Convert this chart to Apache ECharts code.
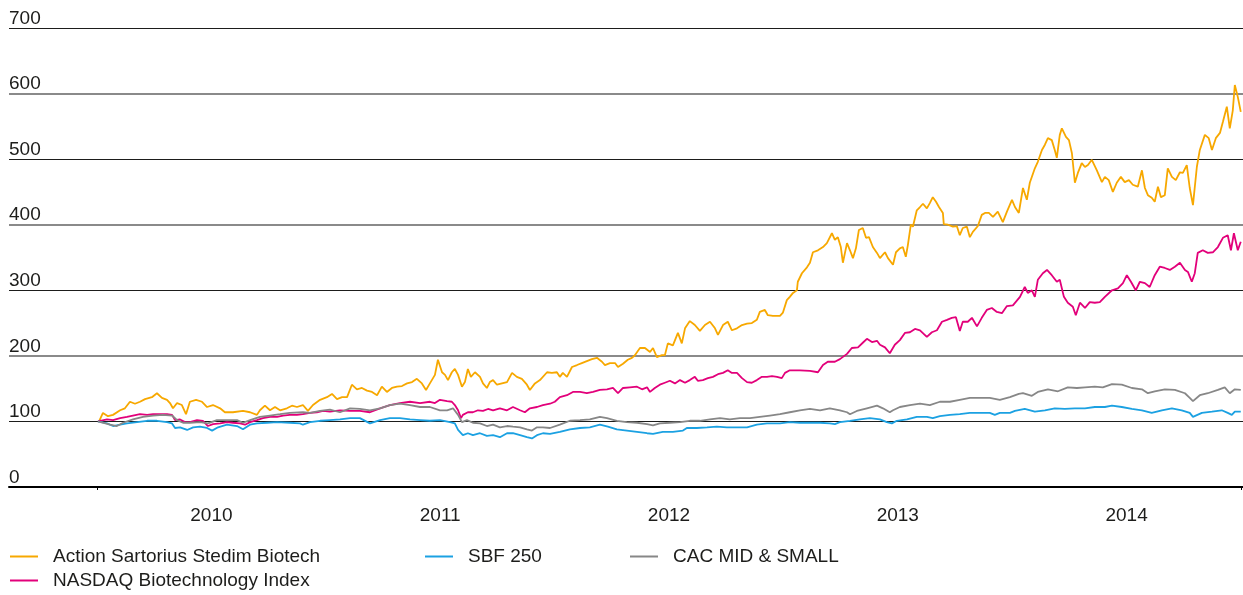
<!DOCTYPE html>
<html lang="fr">
<head>
<meta charset="UTF-8">
<title>Action Sartorius Stedim Biotech - performance</title>
<script src="https://cdn.jsdelivr.net/npm/echarts@6/dist/echarts.min.js"></script>
<style>
  html, body { margin: 0; padding: 0; background: #fff; }
  #main { width: 1243px; height: 595px; }
</style>
</head>
<body>
<div id="main"></div>
<script>
// year labels on the x axis
const years = ['2010', '2011', '2012', '2013', '2014'];
const START_YEAR = 2010;

// [years since 1 Jan 2010, index (base 100)]
const sartorius = [
  [0.009,100],[0.026,113],[0.048,108],[0.070,110],[0.101,117],[0.122,120],[0.144,130],[0.166,127],[0.188,130],[0.210,134],
  [0.240,137],[0.262,143],[0.284,136],[0.306,133],[0.319,128],[0.332,120],[0.350,128],[0.371,125],[0.389,111],[0.406,130],
  [0.433,133],[0.459,130],[0.481,122],[0.507,125],[0.538,120],[0.559,114],[0.594,114],[0.638,116],[0.669,114],[0.699,110],
  [0.712,117],[0.734,124],[0.756,117],[0.778,122],[0.800,117],[0.830,120],[0.852,124],[0.874,122],[0.900,125],[0.922,116],
  [0.944,125],[0.975,133],[1.005,137],[1.027,142],[1.049,134],[1.071,137],[1.093,137],[1.114,156],[1.136,149],[1.158,151],
  [1.180,147],[1.202,145],[1.224,140],[1.245,153],[1.267,145],[1.289,151],[1.311,153],[1.333,154],[1.355,158],[1.377,160],
  [1.398,165],[1.420,158],[1.438,148],[1.455,158],[1.477,171],[1.490,194],[1.508,175],[1.521,171],[1.534,163],[1.551,175],
  [1.564,180],[1.578,171],[1.595,153],[1.608,160],[1.621,180],[1.634,168],[1.652,175],[1.674,168],[1.687,158],[1.704,151],
  [1.717,160],[1.731,163],[1.748,156],[1.770,158],[1.792,160],[1.814,174],[1.835,168],[1.857,165],[1.879,156],[1.892,148],
  [1.914,158],[1.936,163],[1.967,175],[1.988,174],[2.010,175],[2.023,168],[2.036,174],[2.054,168],[2.076,183],[2.098,186],
  [2.119,189],[2.141,192],[2.163,195],[2.185,197],[2.207,191],[2.220,186],[2.242,189],[2.264,189],[2.277,183],[2.299,188],
  [2.320,194],[2.338,197],[2.351,201],[2.373,212],[2.395,212],[2.417,206],[2.430,212],[2.447,198],[2.469,201],[2.482,201],
  [2.495,219],[2.517,216],[2.539,235],[2.556,219],[2.570,242],[2.591,253],[2.613,247],[2.635,238],[2.657,247],[2.679,252],
  [2.701,242],[2.714,232],[2.736,247],[2.757,252],[2.775,239],[2.797,242],[2.819,247],[2.841,249],[2.862,250],[2.884,255],
  [2.897,267],[2.919,270],[2.932,262],[2.954,261],[2.985,261],[2.998,266],[3.015,285],[3.028,290],[3.042,296],[3.059,300],
  [3.063,313],[3.081,326],[3.103,335],[3.116,342],[3.129,358],[3.151,361],[3.173,366],[3.190,372],[3.212,387],[3.225,377],
  [3.238,381],[3.251,366],[3.260,342],[3.278,372],[3.291,361],[3.304,349],[3.317,364],[3.330,392],[3.347,395],[3.361,380],
  [3.374,381],[3.391,366],[3.409,357],[3.422,349],[3.444,358],[3.457,349],[3.479,339],[3.492,358],[3.509,364],[3.522,366],
  [3.535,351],[3.544,369],[3.557,400],[3.566,397],[3.583,422],[3.597,427],[3.610,432],[3.627,425],[3.640,433],[3.653,442],
  [3.667,435],[3.680,427],[3.697,418],[3.701,401],[3.719,400],[3.741,397],[3.758,398],[3.771,384],[3.784,395],[3.802,397],
  [3.815,381],[3.828,389],[3.850,398],[3.867,415],[3.881,418],[3.898,418],[3.916,412],[3.937,420],[3.959,404],[3.977,420],
  [3.999,438],[4.012,427],[4.029,418],[4.047,456],[4.064,438],[4.077,464],[4.099,486],[4.112,496],[4.130,514],[4.143,522],
  [4.156,532],[4.173,529],[4.186,514],[4.195,502],[4.208,537],[4.217,547],[4.235,534],[4.248,529],[4.261,509],[4.274,464],
  [4.287,479],[4.304,494],[4.318,488],[4.331,491],[4.348,499],[4.370,483],[4.392,465],[4.405,473],[4.422,468],[4.440,450],
  [4.457,464],[4.475,473],[4.492,465],[4.510,468],[4.527,461],[4.549,458],[4.567,483],[4.580,456],[4.593,445],[4.610,441],
  [4.623,435],[4.637,458],[4.650,442],[4.667,445],[4.680,486],[4.698,473],[4.715,468],[4.733,480],[4.746,479],[4.763,491],
  [4.776,456],[4.790,430],[4.807,488],[4.820,514],[4.842,537],[4.859,532],[4.873,514],[4.890,532],[4.908,540],[4.921,557],
  [4.938,580],[4.951,547],[4.964,574],[4.973,613],[4.986,595],[4.999,572]
];

const nasdaq = [
  [0.004,100],[0.044,103],[0.070,102],[0.101,105],[0.131,107],[0.157,109],[0.188,111],[0.219,110],[0.245,111],[0.275,111],
  [0.306,111],[0.328,110],[0.341,102],[0.363,103],[0.385,99],[0.406,99],[0.437,102],[0.463,101],[0.485,93],[0.507,96],
  [0.538,97],[0.568,99],[0.594,98],[0.625,97],[0.647,95],[0.669,99],[0.699,102],[0.725,105],[0.756,107],[0.787,107],
  [0.813,109],[0.843,110],[0.874,110],[0.900,111],[0.931,113],[0.961,114],[0.988,116],[1.018,115],[1.062,117],[1.106,116],
  [1.149,116],[1.193,114],[1.237,120],[1.280,125],[1.324,128],[1.368,130],[1.412,128],[1.455,130],[1.477,128],[1.499,133],
  [1.530,131],[1.551,130],[1.564,125],[1.578,117],[1.591,105],[1.599,110],[1.621,114],[1.643,114],[1.665,117],[1.687,116],
  [1.709,119],[1.731,117],[1.761,120],[1.792,117],[1.818,122],[1.849,117],[1.870,114],[1.892,120],[1.923,122],[1.949,125],
  [1.980,127],[2.001,130],[2.023,137],[2.054,140],[2.080,145],[2.111,145],[2.141,143],[2.168,145],[2.198,148],[2.229,149],
  [2.255,151],[2.277,143],[2.299,151],[2.329,152],[2.360,153],[2.382,149],[2.404,152],[2.417,145],[2.438,151],[2.460,156],
  [2.482,159],[2.504,162],[2.526,158],[2.548,163],[2.570,159],[2.591,163],[2.613,168],[2.626,162],[2.648,163],[2.670,166],
  [2.692,168],[2.714,172],[2.736,174],[2.757,178],[2.775,174],[2.797,174],[2.819,166],[2.841,160],[2.862,159],[2.884,163],
  [2.906,168],[2.928,168],[2.950,169],[2.972,168],[2.993,166],[3.007,174],[3.028,178],[3.072,178],[3.116,177],[3.151,175],
  [3.173,186],[3.194,191],[3.225,191],[3.247,195],[3.278,203],[3.299,212],[3.326,213],[3.347,220],[3.365,226],[3.387,221],
  [3.409,223],[3.422,217],[3.444,213],[3.465,204],[3.487,217],[3.509,224],[3.531,235],[3.553,236],[3.575,241],[3.597,239],
  [3.627,229],[3.649,236],[3.671,239],[3.693,252],[3.715,255],[3.736,258],[3.754,259],[3.771,238],[3.784,252],[3.806,252],
  [3.824,258],[3.846,245],[3.867,258],[3.889,270],[3.911,273],[3.933,267],[3.955,265],[3.977,276],[4.003,277],[4.034,290],
  [4.055,305],[4.068,296],[4.086,300],[4.099,290],[4.112,316],[4.134,326],[4.152,331],[4.173,323],[4.195,313],[4.208,316],
  [4.226,290],[4.243,281],[4.265,275],[4.278,262],[4.296,281],[4.318,273],[4.339,282],[4.361,281],[4.383,282],[4.405,290],
  [4.436,300],[4.462,303],[4.484,311],[4.501,323],[4.519,313],[4.540,300],[4.558,313],[4.580,311],[4.601,305],[4.623,323],
  [4.645,336],[4.667,334],[4.689,331],[4.711,336],[4.733,342],[4.755,331],[4.768,328],[4.785,313],[4.798,326],[4.811,357],
  [4.833,361],[4.855,357],[4.877,358],[4.899,366],[4.921,380],[4.942,384],[4.956,361],[4.969,387],[4.986,361],[4.999,374]
];

const sbf250 = [
  [0.004,100],[0.044,97],[0.070,93],[0.101,95],[0.131,97],[0.175,99],[0.219,101],[0.262,101],[0.306,99],[0.328,97],
  [0.341,90],[0.363,91],[0.394,87],[0.420,91],[0.450,92],[0.481,90],[0.503,86],[0.529,91],[0.568,95],[0.612,93],
  [0.638,88],[0.669,95],[0.699,97],[0.743,98],[0.787,99],[0.843,98],[0.887,97],[0.900,95],[0.931,99],[0.975,101],
  [1.018,102],[1.062,103],[1.106,105],[1.149,105],[1.193,97],[1.237,102],[1.280,105],[1.324,105],[1.368,103],[1.412,102],
  [1.455,101],[1.499,102],[1.543,99],[1.564,97],[1.578,87],[1.599,79],[1.621,82],[1.643,79],[1.674,82],[1.704,78],
  [1.731,79],[1.761,76],[1.792,82],[1.818,82],[1.849,79],[1.879,76],[1.901,74],[1.923,79],[1.949,82],[1.980,81],
  [2.023,84],[2.067,88],[2.111,90],[2.154,91],[2.198,95],[2.233,92],[2.272,88],[2.316,86],[2.360,84],[2.404,82],
  [2.430,81],[2.473,84],[2.517,84],[2.561,86],[2.578,90],[2.622,90],[2.666,91],[2.709,92],[2.753,91],[2.797,91],
  [2.841,91],[2.884,95],[2.928,97],[2.985,97],[3.028,99],[3.072,98],[3.116,98],[3.160,98],[3.203,97],[3.225,96],
  [3.247,99],[3.291,101],[3.334,103],[3.378,105],[3.422,103],[3.452,99],[3.474,97],[3.496,101],[3.540,103],[3.583,107],
  [3.627,107],[3.653,105],[3.684,108],[3.728,110],[3.771,111],[3.815,113],[3.859,113],[3.902,113],[3.924,110],[3.946,113],
  [3.990,113],[4.012,116],[4.055,119],[4.099,115],[4.143,117],[4.186,120],[4.230,119],[4.274,120],[4.318,120],[4.361,122],
  [4.405,122],[4.436,124],[4.479,122],[4.523,119],[4.567,117],[4.610,113],[4.654,117],[4.698,120],[4.741,117],[4.776,113],
  [4.790,107],[4.829,113],[4.873,115],[4.916,117],[4.942,113],[4.960,110],[4.973,115],[4.999,115]
];

const cacMidSmall = [
  [0.004,100],[0.057,95],[0.087,93],[0.114,98],[0.157,103],[0.201,107],[0.245,109],[0.288,110],[0.328,109],[0.350,102],
  [0.376,98],[0.406,98],[0.450,99],[0.485,97],[0.524,102],[0.568,102],[0.612,102],[0.638,98],[0.669,102],[0.712,107],
  [0.756,109],[0.800,111],[0.843,113],[0.900,114],[0.931,113],[0.975,116],[1.018,118],[1.062,114],[1.106,120],[1.149,119],
  [1.193,117],[1.237,120],[1.280,125],[1.324,127],[1.368,125],[1.412,122],[1.455,122],[1.499,117],[1.530,117],[1.556,120],
  [1.578,110],[1.595,99],[1.617,102],[1.643,98],[1.674,97],[1.704,93],[1.731,95],[1.761,91],[1.792,93],[1.818,92],
  [1.849,91],[1.879,88],[1.901,86],[1.923,91],[1.949,91],[1.980,90],[2.023,95],[2.067,101],[2.111,102],[2.154,103],
  [2.198,107],[2.229,105],[2.272,101],[2.316,99],[2.360,98],[2.404,96],[2.430,94],[2.460,97],[2.504,98],[2.548,99],
  [2.591,101],[2.635,101],[2.679,103],[2.723,105],[2.766,103],[2.810,105],[2.854,105],[2.897,107],[2.941,109],[2.985,111],
  [3.028,114],[3.072,117],[3.116,119],[3.160,117],[3.203,120],[3.247,117],[3.278,114],[3.291,111],[3.321,116],[3.365,120],
  [3.409,124],[3.435,120],[3.465,114],[3.479,117],[3.509,122],[3.553,125],[3.597,127],[3.640,125],[3.684,130],[3.728,130],
  [3.771,133],[3.815,136],[3.859,136],[3.902,136],[3.946,133],[3.990,137],[4.029,142],[4.047,143],[4.086,139],[4.112,145],
  [4.156,149],[4.200,146],[4.243,152],[4.283,151],[4.318,152],[4.361,153],[4.396,152],[4.436,157],[4.479,156],[4.523,151],
  [4.567,149],[4.593,143],[4.623,146],[4.667,149],[4.711,148],[4.755,143],[4.776,136],[4.790,131],[4.820,140],[4.855,143],
  [4.899,148],[4.929,152],[4.951,143],[4.973,149],[4.999,148]
];

const FONT = "'Liberation Sans', Arial, sans-serif";
const TEXT_COLOR = '#1d1d1b';
const BLACK = '#1d1d1b';
const GRAY = '#8a8a8a';
const CLEAR = 'rgba(0,0,0,0)';

const myChart = echarts.init(document.getElementById('main'));

function toYears(arr) {
  return arr.map(p => [START_YEAR + p[0], p[1]]);
}

function makeSeries(name, arr, color) {
  return {
    name: name,
    type: 'line',
    xAxisIndex: 1,
    yAxisIndex: 2,
    data: toYears(arr),
    symbol: 'none',
    showSymbol: false,
    lineStyle: { width: 1.8, color: color },
    itemStyle: { color: color },
    z: 5
  };
}

function makeLegend(name, left, top) {
  return {
    data: [name],
    left: left,
    top: top,
    padding: 0,
    icon: 'rect',
    itemWidth: 28,
    itemHeight: 2,
    selectedMode: false,
    textStyle: {
      fontFamily: FONT,
      fontSize: 19,
      color: TEXT_COLOR,
      padding: [0, 0, 0, 10]
    }
  };
}

const option = {
  animation: false,
  backgroundColor: '#fff',
  textStyle: { fontFamily: FONT },
  grid: [
    { left: 9, right: 0, top: 28, bottom: 108 },
    { left: 97, right: 2, top: 28, bottom: 108 }
  ],
  xAxis: [
    {
      gridIndex: 0, type: 'value', min: 0, max: 1,
      axisLine: { show: true, lineStyle: { color: '#000', width: 2 } },
      axisTick: { show: false }, axisLabel: { show: false }, splitLine: { show: false }
    },
    { gridIndex: 1, type: 'value', min: 2010, max: 2015, show: false },
    {
      gridIndex: 1, type: 'category', data: years, boundaryGap: true, position: 'bottom',
      axisLine: { show: false },
      axisTick: { show: true, length: 3, interval: (i) => i === 0, lineStyle: { color: '#000', width: 1 } },
      axisLabel: { margin: 19, fontSize: 19, color: TEXT_COLOR, fontFamily: FONT },
      splitLine: { show: false }
    }
  ],
  yAxis: [
    {
      gridIndex: 0, type: 'value', min: 0, max: 700, interval: 100,
      axisLine: { show: false }, axisTick: { show: false },
      axisLabel: {
        inside: true, margin: 0, align: 'left', verticalAlign: 'bottom',
        padding: [0, 0, 0, 0], fontSize: 19, color: TEXT_COLOR, fontFamily: FONT
      },
      splitLine: {
        lineStyle: { color: [BLACK, BLACK, CLEAR, BLACK, CLEAR, BLACK, CLEAR, BLACK], width: 1.2 }
      }
    },
    {
      gridIndex: 0, type: 'value', min: 0, max: 700, interval: 200,
      axisLine: { show: false }, axisTick: { show: false }, axisLabel: { show: false },
      splitLine: { lineStyle: { color: [CLEAR, GRAY, GRAY, GRAY, CLEAR], width: 1.8 } }
    },
    { gridIndex: 1, type: 'value', min: 0, max: 700, show: false }
  ],
  legend: [
    makeLegend('Action Sartorius Stedim Biotech', 10, 547),
    makeLegend('NASDAQ Biotechnology Index', 10, 571),
    makeLegend('SBF 250', 425, 547),
    makeLegend('CAC MID & SMALL', 630, 547)
  ],
  series: [
    makeSeries('Action Sartorius Stedim Biotech', sartorius, '#f7a800'),
    makeSeries('NASDAQ Biotechnology Index', nasdaq, '#e2007a'),
    makeSeries('SBF 250', sbf250, '#1ba1e2'),
    makeSeries('CAC MID & SMALL', cacMidSmall, '#878787')
  ]
};

myChart.setOption(option);
</script>
</body>
</html>
